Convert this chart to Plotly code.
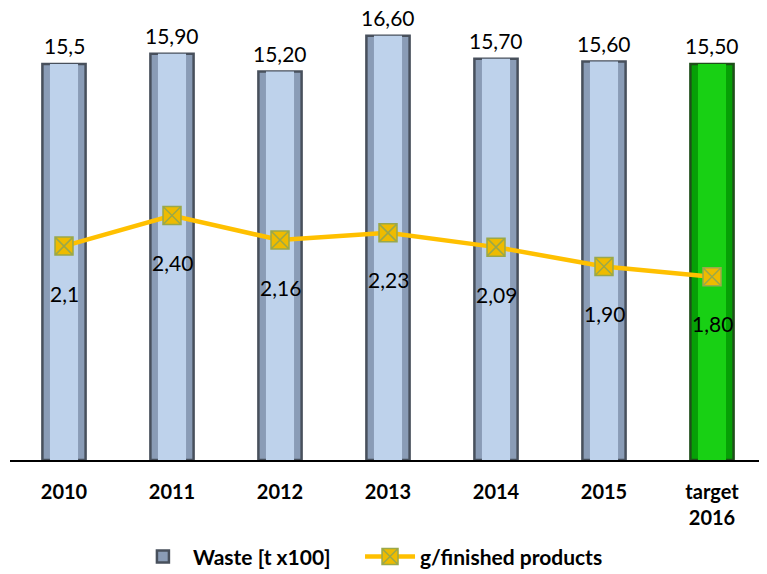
import plotly.graph_objects as go

categories = ["2010", "2011", "2012", "2013", "2014", "2015", "target<br>2016"]
waste = [15.5, 15.9, 15.2, 16.6, 15.7, 15.6, 15.5]
waste_labels = ["15,5", "15,90", "15,20", "16,60", "15,70", "15,60", "15,50"]
per_product = [2.1, 2.40, 2.16, 2.23, 2.09, 1.90, 1.80]
per_product_labels = ["2,1", "2,40", "2,16", "2,23", "2,09", "1,90", "1,80"]

FONT = "Lato"
outer_cols = ["#8a9cb6"] * 6 + ["#06a006"]
inner_cols = ["#bed2eb"] * 6 + ["#18d014"]
edge_cols = ["#48505c"] * 6 + ["#1f4f1a"]

fig = go.Figure()
fig.add_trace(go.Bar(
    x=categories, y=waste, name="Waste [t x100]", width=0.4,
    marker=dict(color=outer_cols, line=dict(color=edge_cols, width=2.5)),
    yaxis="y", showlegend=True, legend="legend",
))
fig.add_trace(go.Bar(
    x=categories, y=waste, width=0.26, showlegend=False,
    marker=dict(color=inner_cols, line=dict(width=0)),
    yaxis="y", hoverinfo="skip",
))
fig.add_trace(go.Scatter(
    x=categories, y=per_product, name="g/finished products", mode="lines+markers",
    line=dict(color="#ffc000", width=4.5),
    marker=dict(symbol="square-x", size=18, color="#eebb00",
                line=dict(color="#9aa84a", width=1.5)),
    yaxis="y2", legend="legend2",
))

ann = []
for i, (v, t) in enumerate(zip(waste, waste_labels)):
    ann.append(dict(x=i, y=v, xref="x", yref="y", text=t, showarrow=False,
                    yanchor="middle", yshift=18,
                    font=dict(family=FONT, size=21, color="#000000")))
for i, (v, t) in enumerate(zip(per_product, per_product_labels)):
    ann.append(dict(x=i, y=v, xref="x", yref="y2", text=t, showarrow=False,
                    yanchor="middle", yshift=-47,
                    font=dict(family=FONT, size=21, color="#000000")))

legend_font = dict(family=FONT, size=21, color="#000000", weight="bold")
fig.update_layout(
    width=767, height=574,
    margin=dict(l=2, r=9, t=12, b=122),
    paper_bgcolor="white", plot_bgcolor="white",
    barmode="overlay",
    font=dict(family=FONT, size=18, color="#000000"),
    xaxis=dict(type="category", categoryorder="array", categoryarray=categories,
               range=[-0.5, len(categories) - 0.5],
               showline=True, linecolor="#000000", linewidth=1.5,
               tickfont=dict(family=FONT, size=20, color="#000000", weight="bold"),
               ticks="", ticklabelstandoff=13, showgrid=False),
    yaxis=dict(range=[0, 17.22], visible=False, showgrid=False),
    yaxis2=dict(range=[0, 4.32], overlaying="y", side="right", visible=False,
                showgrid=False),
    legend=dict(orientation="h", x=0.1626, xanchor="left", y=-0.22, yanchor="middle",
                font=legend_font, itemwidth=50),
    legend2=dict(orientation="h", x=0.463, xanchor="left", y=-0.22, yanchor="middle",
                 font=legend_font, itemwidth=50),
    annotations=ann,
)

fig.write_html("out.html")
